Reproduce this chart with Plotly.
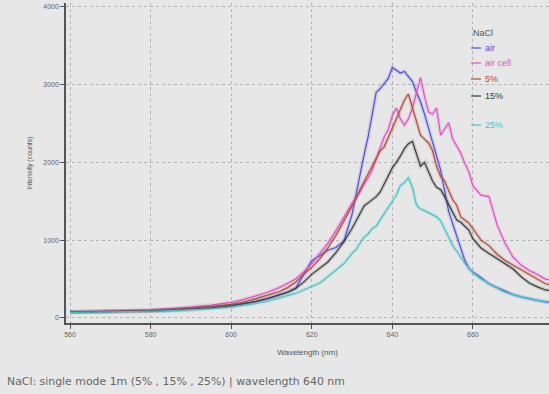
import plotly.graph_objects as go

# Wavelength grid (nm) shared by all spectra
wavelength = [560, 565, 570, 575, 580, 585, 590, 595, 600, 603, 606, 609, 612, 614, 616, 618,
              620, 622, 624, 626, 628, 630, 631, 632, 633, 634, 635, 636, 637, 638, 639, 640,
              641, 642, 643, 644, 645, 646, 647, 648, 649, 650, 651, 652, 653, 654, 655, 656,
              657, 658, 659, 660, 662, 664, 666, 668, 670, 672, 674, 676, 678, 680]

air = [76, 78, 80, 84, 90, 98, 110, 128, 158, 180, 210, 245, 290, 330, 380, 560,
       735, 800, 870, 905, 990, 1330, 1600, 1850, 2100, 2330, 2620, 2900, 2950, 3010, 3080, 3220,
       3190, 3150, 3170, 3110, 3040, 2900, 2780, 2620, 2430, 2270, 2080, 1900, 1620, 1370, 1210, 1050,
       890, 740, 640, 590, 520, 440, 390, 340, 300, 270, 245, 225, 205, 195]

air_cell = [78, 82, 88, 95, 105, 120, 140, 165, 200, 235, 280, 330, 390, 440, 500, 590,
            700, 830, 960, 1120, 1300, 1470, 1540, 1620, 1720, 1800, 1900, 2050, 2200, 2330, 2420, 2600,
            2700, 2560, 2480, 2560, 2700, 2900, 3090, 2850, 2650, 2620, 2700, 2350, 2430, 2510, 2300, 2200,
            2120, 1990, 1880, 1700, 1580, 1560, 1200, 960, 780, 680, 610, 560, 500, 480]

nacl_5 = [75, 78, 82, 88, 96, 108, 122, 145, 175, 205, 245, 290, 340, 390, 460, 560,
          650, 760, 900, 1060, 1250, 1450, 1530, 1650, 1760, 1850, 1950, 2050, 2150, 2200, 2320, 2420,
          2550, 2680, 2800, 2880, 2700, 2500, 2350, 2300, 2250, 2150, 1950, 1820, 1760, 1640, 1520, 1450,
          1300, 1260, 1220, 1150, 1000, 930, 820, 740, 680, 620, 570, 510, 440, 420]

nacl_15 = [74, 76, 79, 84, 90, 100, 112, 130, 155, 180, 210, 250, 295, 330, 380, 460,
           560, 640, 720, 840, 980, 1150, 1250, 1350, 1440, 1480, 1520, 1560, 1620, 1720, 1820, 1930,
           2000, 2080, 2180, 2240, 2270, 2120, 1950, 2000, 1880, 1760, 1680, 1650, 1560, 1460, 1340, 1260,
           1230, 1180, 1130, 1020, 900, 830, 760, 690, 630, 530, 450, 400, 360, 345]

nacl_25 = [72, 74, 76, 80, 86, 94, 104, 118, 138, 160, 185, 215, 255, 285, 315, 360,
           400, 450, 530, 610, 700, 830, 880, 960, 1040, 1080, 1150, 1180, 1260, 1340, 1420, 1500,
           1580, 1700, 1740, 1800, 1680, 1450, 1400, 1380, 1350, 1320, 1300, 1250, 1150, 1040, 930, 860,
           780, 700, 640, 580, 500, 440, 380, 330, 300, 270, 245, 225, 210, 200]

series_names = ["air", "air cell", "5%", "15%", "25%"]
series_values = [air, air_cell, nacl_5, nacl_15, nacl_25]
series_colors = ["#4f4fd8", "#e050c8", "#b04a3a", "#3a3a3a", "#45c4c4"]

x_ticks = [560, 580, 600, 620, 640, 660]
y_ticks = [0, 1000, 2000, 3000, 4000]

BG = "#e7e7e7"
FONT = "Liberation Sans"

# plot-area geometry in pixels, used to place the hand-built legend
L, T, W, H = 66, 3, 483, 320


def px_x(px):
    return (px - L) / W


def px_y(py):
    return (T + H - py) / H


fig = go.Figure()

for name, vals, color in zip(series_names, series_values, series_colors):
    # soft halo under each spectrum
    fig.add_trace(go.Scatter(x=wavelength, y=vals, mode="lines", showlegend=False,
                             line=dict(color=color, width=4), opacity=0.16,
                             hoverinfo="skip"))
    fig.add_trace(go.Scatter(x=wavelength, y=vals, mode="lines", name=name,
                             showlegend=False, line=dict(color=color, width=1.2)))

# compact legend: title, short line samples and coloured labels
legend_rows = [48, 63, 79, 96, 125]
fig.add_annotation(text="NaCl", xref="paper", yref="paper", x=px_x(471), y=px_y(33),
                   xanchor="left", yanchor="middle", showarrow=False,
                   font=dict(family=FONT, size=9, color="#555555"))
for name, color, row in zip(series_names, series_colors, legend_rows):
    fig.add_shape(type="line", xref="paper", yref="paper",
                  x0=px_x(471), x1=px_x(481), y0=px_y(row), y1=px_y(row),
                  line=dict(color=color, width=1.2))
    fig.add_annotation(text=name, xref="paper", yref="paper", x=px_x(483), y=px_y(row),
                       xanchor="left", yanchor="middle", showarrow=False,
                       font=dict(family=FONT, size=9, color=color))

fig.update_layout(
    width=549, height=394,
    margin=dict(l=L, r=549 - L - W, t=T, b=394 - T - H),
    paper_bgcolor=BG, plot_bgcolor=BG,
    font=dict(family=FONT, size=7, color="#555555"),
    showlegend=False,
    xaxis=dict(
        range=[559, 678.9], tickvals=x_ticks, ticktext=[str(v) for v in x_ticks],
        showgrid=True, gridcolor="#b4b4b4", griddash="3px,3px", gridwidth=1,
        showline=True, linecolor="#555555", linewidth=1.5,
        ticks="outside", ticklen=4, tickcolor="#555555",
        tickfont=dict(size=7, color="#666666"), zeroline=False,
        title=dict(text="Wavelength (nm)", font=dict(size=8, color="#555555"), standoff=12),
    ),
    yaxis=dict(
        range=[-65, 4050], tickvals=y_ticks, ticktext=[str(v) for v in y_ticks],
        showgrid=True, gridcolor="#b4b4b4", griddash="3px,3px", gridwidth=1,
        showline=True, linecolor="#555555", linewidth=1.5,
        ticks="outside", ticklen=4, tickcolor="#555555",
        tickfont=dict(size=7, color="#666666"), zeroline=False,
        title=dict(text="Intensity (counts)", font=dict(size=7, color="#555555"), standoff=10),
    ),
)

fig.add_annotation(
    text="NaCl: single mode 1m (5% , 15% , 25%) | wavelength 640 nm",
    xref="paper", yref="paper", x=px_x(5), y=px_y(381),
    xanchor="left", yanchor="middle", showarrow=False,
    font=dict(family="DejaVu Sans", size=10.9, color="#666666"),
)

fig.write_html("out.html")
